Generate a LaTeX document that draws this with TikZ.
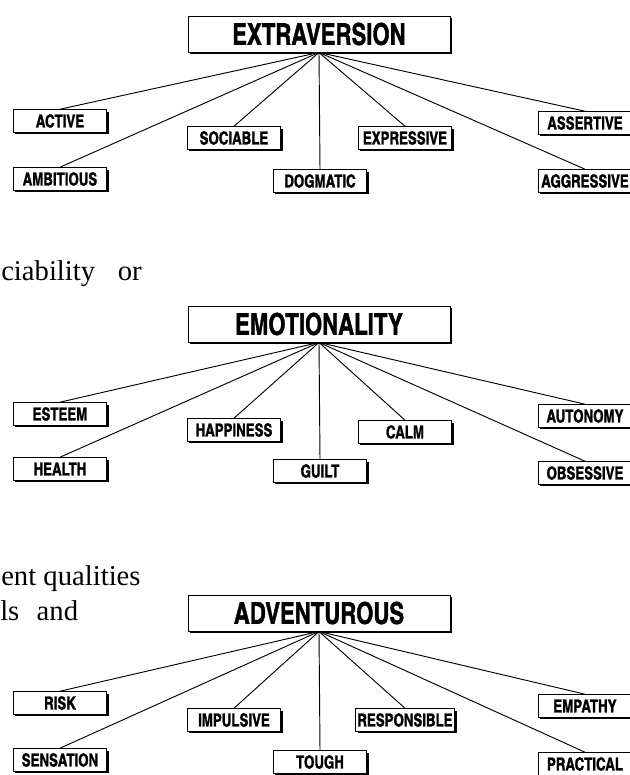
\documentclass[tikz,border=0pt]{standalone}
\usepackage{fontspec}
\setmainfont{Liberation Serif}
\newfontfamily\traitfont{texgyreheroscn-bold.otf}[FakeBold=1.2, FakeStretch=0.9]
\usetikzlibrary{shadows}

\tikzset{
  trait/.style={draw, line width=0.7pt, fill=white, inner xsep=1.5pt, inner ysep=0pt,
    minimum width=70pt, minimum height=17pt,
    font=\traitfont\fontsize{13.5}{13.5}\selectfont,
    drop shadow={fill=black, opacity=1, shadow xshift=1.6pt, shadow yshift=-1.6pt}},
  factor/.style={trait, minimum width=196.5pt, minimum height=27pt,
    font=\traitfont\fontsize{22.5}{22.5}\selectfont},
  link/.style={line width=0.7pt},
  bodytext/.style={inner sep=0pt, anchor=base west, font=\fontsize{21.5}{21.5}\selectfont},
}

\begin{document}
\begin{tikzpicture}[x=0.75pt,y=0.75pt,yscale=-1,xscale=1]
\useasboundingbox (0,0) rectangle (630,775);
\clip (0,0) rectangle (630,775);

% Running text at the left margin
\node[bodytext] (txtA) at (1,280) {ciability\hspace{17pt}or};
\node[bodytext] (txtB) at (1,585) {ent qualities};
\node[bodytext] (txtC) at (0,620) {ls\hspace{13pt}and};

%% first tree
% Factor box
\node[factor] (extra) at (319,34) {EXTRAVERSION};
% Trait boxes
\node[trait] (active) at (60,121) {ACTIVE};
\node[trait] (ambit) at (60,179) {AMBITIOUS};
\node[trait] (socia) at (234,138) {SOCIABLE};
\node[trait] (dogma) at (320,181) {DOGMATIC};
\node[trait] (expre) at (405,138) {EXPRESSIVE};
\node[trait] (asser) at (585,123) {ASSERTIVE};
\node[trait] (aggre) at (585,181) {AGGRESSIVE};
% Links
\draw[link] (extra.south) -- (active.north);
\draw[link] (extra.south) -- (ambit.north);
\draw[link] (extra.south) -- (socia.north);
\draw[link] (extra.south) -- (dogma.north);
\draw[link] (extra.south) -- (expre.north);
\draw[link] (extra.south) -- (asser.north);
\draw[link] (extra.south) -- (aggre.north);

%% second tree
% Factor box
\node[factor] (emoti) at (319,324) {EMOTIONALITY};
% Trait boxes
\node[trait] (estee) at (60,414) {ESTEEM};
\node[trait] (healt) at (60,469) {HEALTH};
\node[trait] (happi) at (234,430) {HAPPINESS};
\node[trait] (guilt) at (320,471) {GUILT};
\node[trait] (calm) at (405,432) {CALM};
\node[trait] (auton) at (585,416) {AUTONOMY};
\node[trait] (obses) at (585,473) {OBSESSIVE};
% Links
\draw[link] (emoti.south) -- (estee.north);
\draw[link] (emoti.south) -- (healt.north);
\draw[link] (emoti.south) -- (happi.north);
\draw[link] (emoti.south) -- (guilt.north);
\draw[link] (emoti.south) -- (calm.north);
\draw[link] (emoti.south) -- (auton.north);
\draw[link] (emoti.south) -- (obses.north);

%% third tree
% Factor box
\node[factor] (adven) at (319,613) {ADVENTUROUS};
% Trait boxes
\node[trait] (risk) at (60,703) {RISK};
\node[trait] (sensa) at (60,760) {SENSATION};
\node[trait] (impul) at (234,720) {IMPULSIVE};
\node[trait] (tough) at (320,762) {TOUGH};
\node[trait] (respo) at (405,720) {RESPONSIBLE};
\node[trait] (empat) at (585,706) {EMPATHY};
\node[trait] (pract) at (585,764) {PRACTICAL};
% Links
\draw[link] (adven.south) -- (risk.north);
\draw[link] (adven.south) -- (sensa.north);
\draw[link] (adven.south) -- (impul.north);
\draw[link] (adven.south) -- (tough.north);
\draw[link] (adven.south) -- (respo.north);
\draw[link] (adven.south) -- (empat.north);
\draw[link] (adven.south) -- (pract.north);

\end{tikzpicture}
\end{document}
